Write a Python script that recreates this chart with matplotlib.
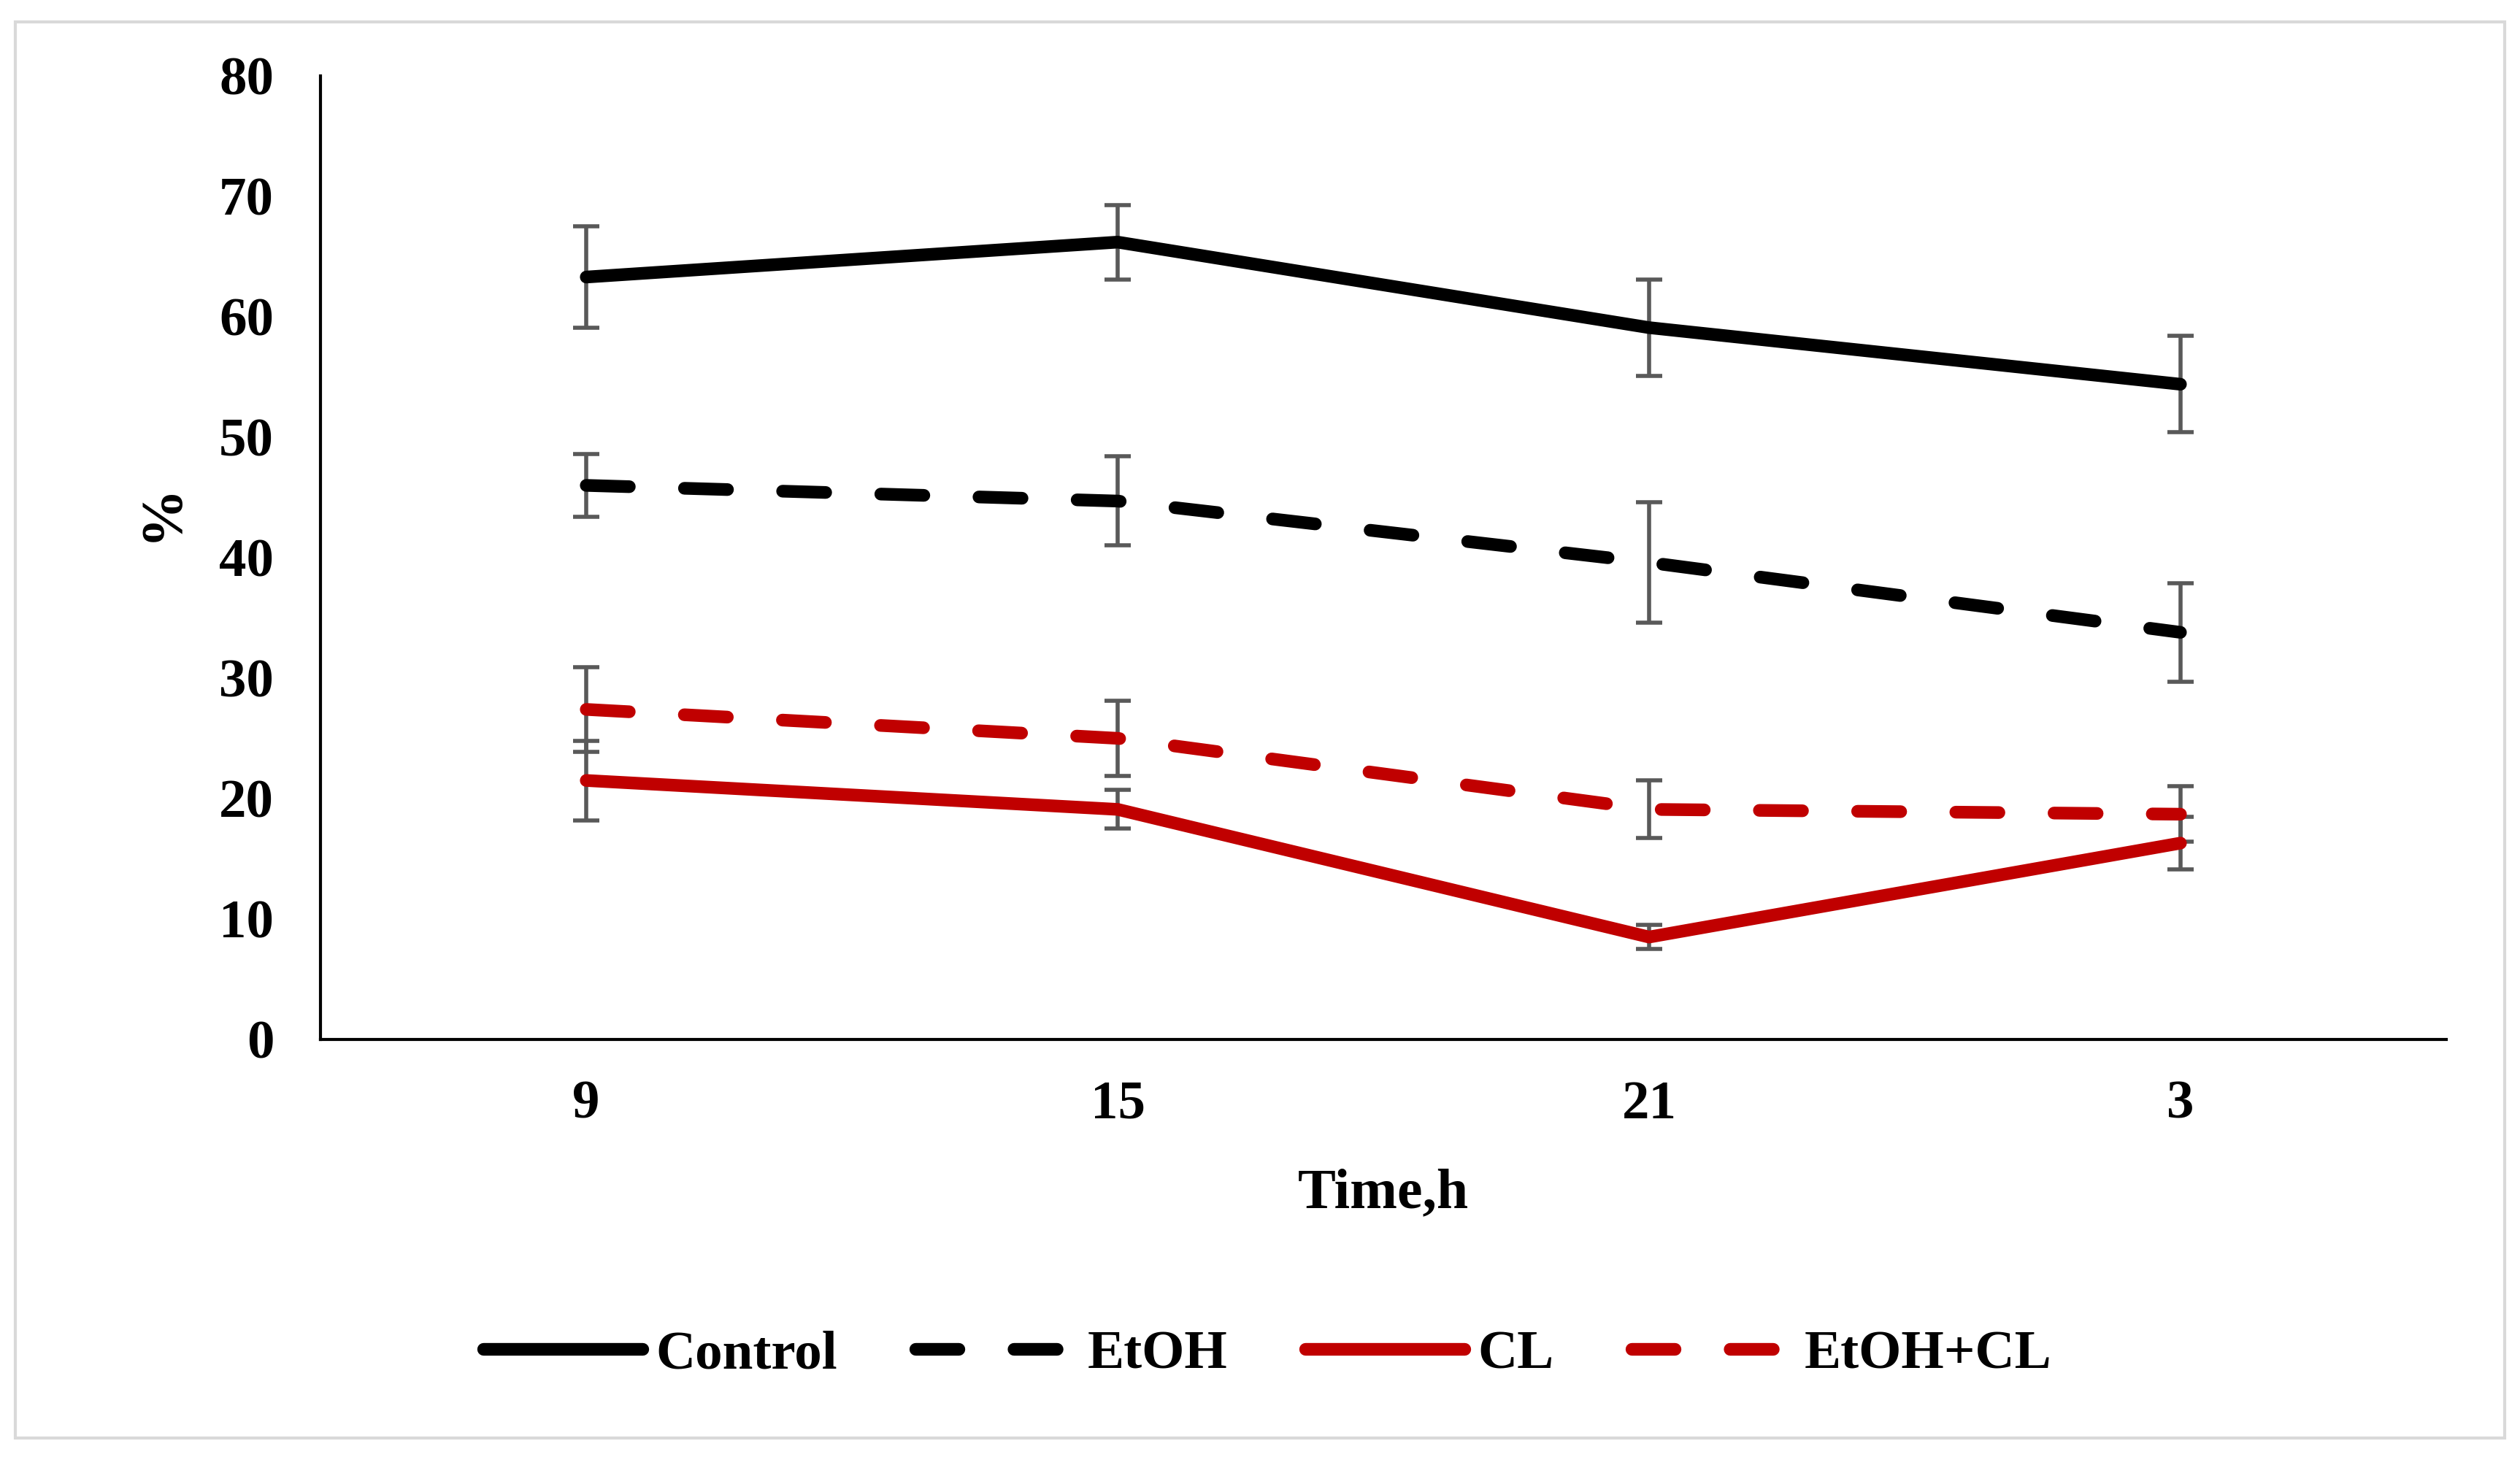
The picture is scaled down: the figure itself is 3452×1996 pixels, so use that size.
import matplotlib
matplotlib.use('Agg')
import matplotlib.pyplot as plt
from matplotlib.patches import Rectangle

plt.rcParams['font.family'] = ['Liberation Serif', 'DejaVu Serif']
plt.rcParams['font.weight'] = 'bold'

# data
times = ['9', '15', '21', '3']
control = [63.3, 66.2, 59.1, 54.4]
control_err = [4.2, 3.1, 4.0, 4.0]
etoh = [46.0, 44.7, 39.6, 33.8]
etoh_err = [2.6, 3.7, 5.0, 4.1]
cl = [21.5, 19.1, 8.5, 16.3]
cl_err = [3.3, 1.6, 1.0, 2.2]
etoh_cl = [27.4, 25.0, 19.1, 18.7]
etoh_cl_err = [3.5, 3.1, 2.4, 2.3]

RED = '#C00000'
ERR = '#595959'
DASH = (3.4, 4.35)

fig = plt.figure(figsize=(34.52, 19.96), dpi=100)
ax = fig.add_axes([0.1272, 0.2866, 0.8435, 0.6613])

# light grey frame around the whole chart
fig.patches.append(Rectangle((0.006, 0.013), 0.988, 0.972, transform=fig.transFigure,
                             fill=False, edgecolor='#d9d9d9', linewidth=3))

x = range(len(times))
series = [
    ('Control', control, control_err, 'black', '-'),
    ('EtOH', etoh, etoh_err, 'black', '--'),
    ('CL', cl, cl_err, RED, '-'),
    ('EtOH+CL', etoh_cl, etoh_cl_err, RED, '--'),
]

for name, vals, errs, col, ls in series:
    ax.errorbar(x, vals, yerr=errs, fmt='none', ecolor=ERR, elinewidth=4,
                capsize=13, capthick=4, zorder=2)

for name, vals, errs, col, ls in series:
    line, = ax.plot(x, vals, color=col, linewidth=12.5, label=name, zorder=3,
                    solid_capstyle='round', dash_capstyle='round')
    if ls == '--':
        line.set_dashes(DASH)

ax.set_xlim(-0.5, 3.5)
ax.set_ylim(0, 80)
ax.set_yticks(range(0, 81, 10))
ax.set_xticks(list(x))
ax.set_xticklabels(times)
ax.tick_params(axis='both', length=0, labelsize=54)
ax.tick_params(axis='y', pad=46)
ax.tick_params(axis='x', pad=40)

for side in ['top', 'right']:
    ax.spines[side].set_visible(False)
ax.spines['left'].set_linewidth(3)
ax.spines['bottom'].set_linewidth(3)

ax.set_xlabel('Time,h', fontsize=56, fontweight='bold', labelpad=38)
ax.set_ylabel('%', fontsize=58, fontweight='bold')
ax.yaxis.set_label_coords(-0.062, 0.547)

fig.legend(loc='center', bbox_to_anchor=(0.503, 0.07), ncol=4, frameon=False,
           fontsize=54, handlelength=2.9, handletextpad=0.25, columnspacing=1.42)

fig.savefig('out.png', dpi=100)
